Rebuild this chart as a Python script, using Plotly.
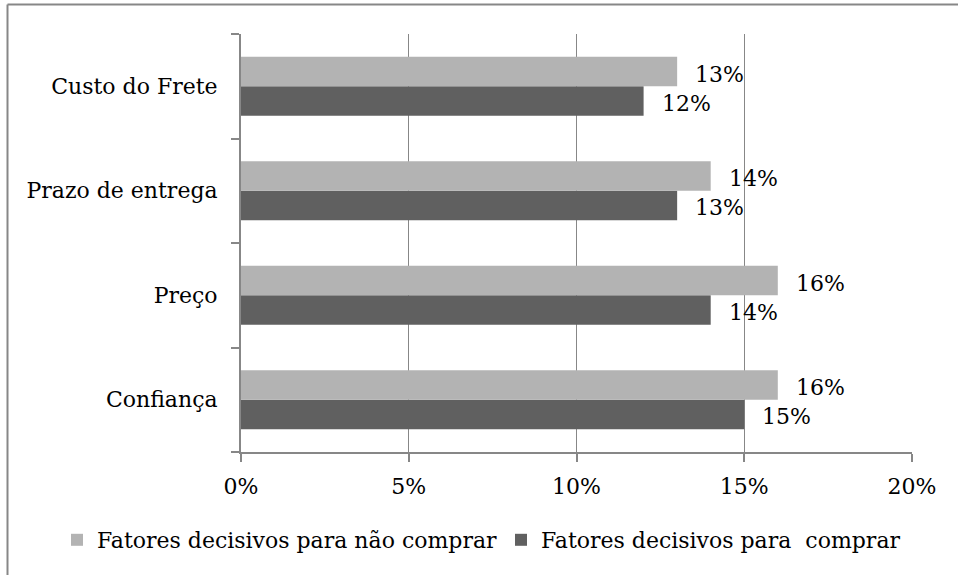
import plotly.graph_objects as go

categories = ["Confiança", "Preço", "Prazo de entrega", "Custo do Frete"]
nao_comprar = [0.16, 0.16, 0.14, 0.13]
comprar = [0.15, 0.14, 0.13, 0.12]
x_ticks = [0, 0.05, 0.10, 0.15, 0.20]
x_tick_labels = ["0%", "5%", "10%", "15%", "20%"]
name_nao = "Fatores decisivos para não comprar"
name_sim = "Fatores decisivos para\u00a0 comprar"

W, H = 958, 575
ML, MR, MT, MB = 241, 46, 34, 123
FONT = "DejaVu Serif"
FS = 22
AXIS_COLOR = "#878787"
LIGHT = "#b3b3b3"
DARK = "#606060"

fig = go.Figure()
fig.add_trace(go.Bar(
    y=categories, x=comprar, orientation="h", name=name_sim,
    marker=dict(color=DARK, line=dict(width=0)),
    legend="legend2",
))
fig.add_trace(go.Bar(
    y=categories, x=nao_comprar, orientation="h", name=name_nao,
    marker=dict(color=LIGHT, line=dict(width=0)),
    legend="legend",
))

# data labels (offset to the right of bar ends, as in the reference)
for vals, yshift in ((nao_comprar, 12), (comprar, -17)):
    for cat, v in zip(categories, vals):
        fig.add_annotation(x=v, y=cat, xref="x", yref="y", text=f"{v*100:.0f}%",
                           showarrow=False, xanchor="left", yanchor="middle",
                           xshift=16, yshift=yshift,
                           font=dict(family=FONT, size=FS, color="#000000"))

pw = W - ML - MR
ph = H - MT - MB
x0 = (7.5 - ML) / pw
y1 = 1 + (MT - 4.5) / ph
fig.add_shape(type="line", xref="paper", yref="paper", x0=x0, x1=(W + 10 - ML) / pw,
              y0=y1, y1=y1, line=dict(color=AXIS_COLOR, width=2))
fig.add_shape(type="line", xref="paper", yref="paper", x0=x0, x1=x0,
              y0=y1, y1=-(MB + 10) / ph, line=dict(color=AXIS_COLOR, width=2))

leg_common = dict(orientation="h", xref="container", yref="container",
                  xanchor="left", yanchor="middle", y=1 - 540 / H,
                  font=dict(family=FONT, size=FS, color="#000000"),
                  itemwidth=30, bgcolor="rgba(0,0,0,0)", borderwidth=0)

fig.update_layout(
    width=W, height=H,
    margin=dict(l=ML, r=MR, t=MT, b=MB, autoexpand=False),
    paper_bgcolor="white", plot_bgcolor="white",
    barmode="group", bargap=0.435, bargroupgap=0,
    font=dict(family=FONT, size=FS, color="#000000"),
    showlegend=True,
    legend=dict(x=57 / W, **leg_common),
    legend2=dict(x=501 / W, **leg_common),
    xaxis=dict(range=[0, 0.20], tickvals=x_ticks, ticktext=x_tick_labels,
               showgrid=True, gridcolor=AXIS_COLOR, gridwidth=1,
               showline=True, linecolor=AXIS_COLOR, linewidth=2,
               ticks="outside", ticklen=8, tickcolor=AXIS_COLOR, tickwidth=2,
               ticklabelstandoff=6,
               zeroline=False, tickfont=dict(family=FONT, size=FS)),
    yaxis=dict(showline=True, linecolor=AXIS_COLOR, linewidth=2,
               ticks="outside", ticklen=8, tickcolor=AXIS_COLOR, tickwidth=2,
               tickson="boundaries", showgrid=False, ticklabelstandoff=10,
               tickfont=dict(family=FONT, size=FS), ticksuffix=" "),
)

fig.write_html("out.html")
